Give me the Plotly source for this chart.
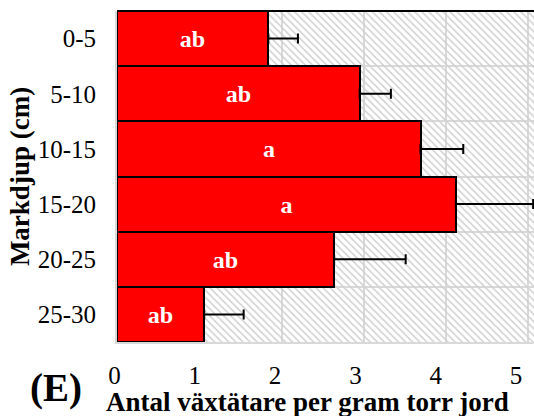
import plotly.graph_objects as go

# Soil depth classes and herbivore counts per gram dry soil
depths = ["0-5", "5-10", "10-15", "15-20", "20-25", "25-30"]
means = [1.84, 2.95, 3.69, 4.12, 2.64, 1.06]
errors = [0.36, 0.38, 0.52, 0.94, 0.87, 0.48]
letters = ["ab", "ab", "a", "a", "ab", "ab"]
x_ticks = [0, 1, 2, 3, 4, 5]
x_max = 5.07
# label axis is drawn slightly narrower than the gridded axis
label_range = [-0.006, 5.187]

SERIF = "Liberation Serif, Times New Roman, serif"

fig = go.Figure()

# hatched panel background, one band per depth class
fig.add_trace(go.Bar(
    y=depths, x=[x_max] * len(depths), orientation="h",
    marker=dict(color="#d0d0d0", line=dict(width=0),
                pattern=dict(shape="\\", size=5, solidity=0.3, fillmode="replace")),
    hoverinfo="skip", showlegend=False,
))

# mean values with one-sided error bars and significance letters
fig.add_trace(go.Bar(
    y=depths, x=means, orientation="h",
    marker=dict(color="#ff0000", line=dict(color="black", width=2)),
    error_x=dict(type="data", array=errors, arrayminus=[0] * len(errors),
                 symmetric=False, color="black", thickness=2, width=5),
    text=letters, textposition="inside", insidetextanchor="middle",
    textangle=0,
    textfont=dict(family=SERIF, size=24, color="white", weight="bold"),
    showlegend=False,
))

# invisible companion trace so the tick-label axis is rendered
fig.add_trace(go.Scatter(
    x=means, y=depths, xaxis="x2", mode="markers",
    marker=dict(opacity=0), hoverinfo="skip", showlegend=False,
))

# black top border of the panel
fig.add_shape(type="line", xref="paper", yref="paper", x0=0, x1=1, y0=1, y1=1,
              line=dict(color="black", width=2))

fig.add_annotation(text="<b>(E)</b>", xref="paper", yref="paper",
                   x=-0.146, y=-0.14, xanchor="center", yanchor="middle",
                   showarrow=False, font=dict(family=SERIF, size=39, color="black"))

fig.add_annotation(text="<b>Antal växtätare per gram torr jord</b>",
                   xref="paper", yref="paper", x=0.458, y=-0.18,
                   xanchor="center", yanchor="middle", showarrow=False,
                   font=dict(family=SERIF, size=27, color="black"))

fig.update_layout(
    width=534, height=416,
    margin=dict(l=117, r=0, t=11, b=74),
    paper_bgcolor="white", plot_bgcolor="white",
    barmode="overlay", bargap=0,
    font=dict(family=SERIF, color="black"),
    xaxis=dict(
        range=[0, x_max], tickvals=x_ticks, showgrid=True,
        gridcolor="#d9d9d9", gridwidth=2, zeroline=False,
        showline=True, linecolor="#d9d9d9", linewidth=2,
        showticklabels=False,
    ),
    xaxis2=dict(
        range=label_range, tickvals=x_ticks, overlaying="x", anchor="y",
        side="bottom", showgrid=False, zeroline=False, showline=False,
        ticks="", tickfont=dict(family=SERIF, size=25),
        ticklabelstandoff=16, ticklabelshift=-3, ticklabeloverflow="allow",
    ),
    yaxis=dict(
        categoryorder="array", categoryarray=depths, autorange="reversed",
        tickson="boundaries", showgrid=True, gridcolor="#d9d9d9", gridwidth=2,
        showline=True, linecolor="#d9d9d9", linewidth=2, ticks="",
        tickfont=dict(family=SERIF, size=25), ticklabelstandoff=14,
        title=dict(text="<b>Markdjup (cm)</b>",
                   font=dict(family=SERIF, size=27), standoff=0),
    ),
)

fig.write_html("out.html")
